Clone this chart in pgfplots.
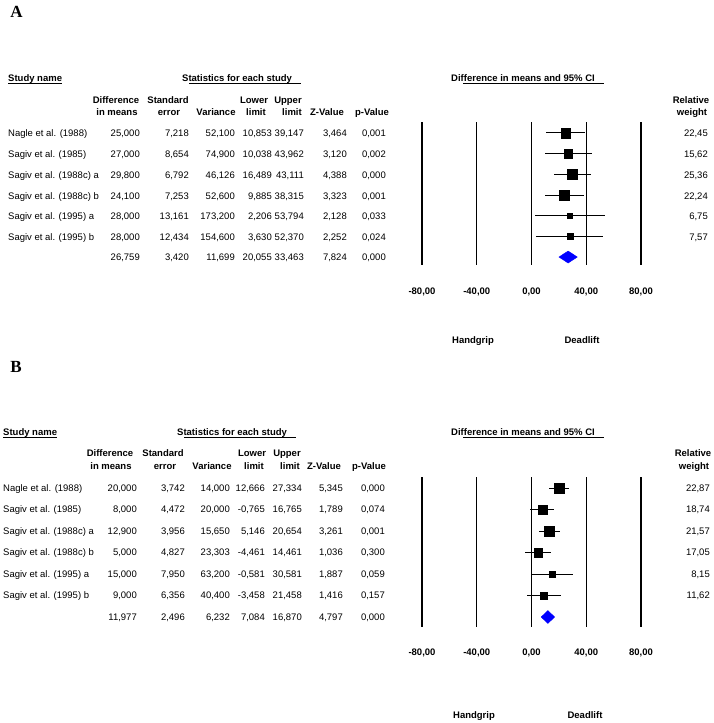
\documentclass[border=0pt]{standalone}
\usepackage{pgfplots}
\pgfplotsset{compat=1.18}
\usepackage{pgfplotstable}
\usepackage{fontspec}
\setmainfont{Liberation Sans}
\newfontfamily\panelfont{Liberation Serif}

\definecolor{diamondblue}{RGB}{0,0,255}

% forest plot data: row, estimate, lower, upper, relative weight
\pgfplotstableread{
row est lo hi w
1 25.000 10.853 39.147 22.45
2 27.000 10.038 43.962 15.62
3 29.800 16.489 43.111 25.36
4 24.100 9.885 38.315 22.24
5 28.000 2.206 53.794 6.75
6 28.000 3.630 52.370 7.57
}\dataA
\pgfplotstableread{
row est lo hi
7 20.055 26.759 33.463
}\sumA
\pgfplotstableread{
row est lo hi w
1 20.000 12.666 27.334 22.87
2 8.000 -0.765 16.765 18.74
3 12.900 5.146 20.654 21.57
4 5.000 -4.461 14.461 17.05
5 15.000 -0.581 30.581 8.15
6 9.000 -3.458 21.458 11.62
}\dataB

\pgfplotsset{
  forest/.style={
    scale only axis, width=219pt, clip=false,
    xmin=-80, xmax=80, y dir=reverse,
    axis line style={draw=none}, major tick length=0pt,
    ytick=\empty,
    xtick={-80,-40,0,40,80},
    xticklabels={{-80,00},{-40,00},{0,00},{40,00},{80,00}},
    xticklabel style={font=\fontsize{9.5}{11}\selectfont\bfseries, anchor=center, inner sep=0pt},
  },
  studies/.style={
    scatter, only marks, mark=square*,
    scatter/use mapped color={draw=black, fill=black},
    point meta=\thisrow{w},
    visualization depends on={1.05*sqrt(\thisrow{w}) \as \msz},
    scatter/@pre marker code/.append style={/tikz/mark size=\msz, /tikz/line width=0pt},
    error bars/.cd, x dir=both, x explicit, error mark=none,
    error bar style={line width=1pt, black},
  },
}

\newcommand\Row[9]{%
  \node[anchor=base west] at (\cN,\ry+3.4) {#1};
  \node[anchor=base east] at (\cD,\ry+3.4) {#2};
  \node[anchor=base east] at (\cS,\ry+3.4) {#3};
  \node[anchor=base east] at (\cV,\ry+3.4) {#4};
  \node[anchor=base east] at (\cL,\ry+3.4) {#5};
  \node[anchor=base east] at (\cU,\ry+3.4) {#6};
  \node[anchor=base east] at (\cZ,\ry+3.4) {#7};
  \node[anchor=base east] at (\cP,\ry+3.4) {#8};
  \node[anchor=base east] at (\cW,\ry+3.4) {#9};
}

\begin{document}
\begin{tikzpicture}
\path (0pt,0pt) rectangle (714pt,-723pt);

% ---------------- Panel A forest plot ----------------
\begin{axis}[forest, at={(422pt,-265pt)}, anchor=south west,
  height=143pt, ymin=0.469, ymax=7.386,
  xticklabel style={yshift=-27pt}]
\pgfplotsinvokeforeach{-80,-40,0,40,80}{
  \addplot[black, line width=1.2pt] coordinates {(#1,0.469) (#1,7.386)};
}
\addplot[studies] table[x=est, y=row,
  x error plus expr=\thisrow{hi}-\thisrow{est},
  x error minus expr=\thisrow{est}-\thisrow{lo}] {\dataA};
\addplot[fill=diamondblue, draw=diamondblue] coordinates
  {(20.055,7) (26.759,6.71) (33.463,7) (26.759,7.29)} -- cycle;
\end{axis}

% ---------------- Panel B forest plot ----------------
\begin{axis}[forest, at={(422pt,-627pt)}, anchor=south west,
  height=150pt, ymin=0.488, ymax=7.465,
  xticklabel style={yshift=-26pt}]
\pgfplotsinvokeforeach{-80,-40,0,40,80}{
  \addplot[black, line width=1.2pt] coordinates {(#1,0.488) (#1,7.465)};
}
\addplot[studies] table[x=est, y=row,
  x error plus expr=\thisrow{hi}-\thisrow{est},
  x error minus expr=\thisrow{est}-\thisrow{lo}] {\dataB};
\addplot[fill=diamondblue, draw=diamondblue] coordinates
  {(7.084,7) (11.977,6.7) (16.870,7) (11.977,7.3)} -- cycle;
\end{axis}

\begin{scope}[x=1pt, y=-1pt, every node/.style={inner sep=0pt, font=\fontsize{9.5}{11}\selectfont}]
% ===== Panel A text =====
\node[font=\fontsize{17}{20}\selectfont\panelfont\bfseries] at (16.5,12) {A};
\node[anchor=base west, font=\fontsize{9.5}{11}\selectfont\bfseries] (snA) at (8,81.4) {Study name};
\draw[line width=0.8pt] ([yshift=-1.8pt]snA.base west) -- ([yshift=-1.8pt]snA.base east);
\node[anchor=base west, font=\fontsize{9.5}{11}\selectfont\bfseries] (stA) at (182,81.4) {Statistics for each study};
\draw[line width=0.8pt] ([xshift=7pt,yshift=-1.8pt]stA.base west) -- ([xshift=9pt,yshift=-1.8pt]stA.base east);
\node[anchor=base west, font=\fontsize{9.5}{11}\selectfont\bfseries] (ciA) at (451,81.4) {Difference in means and 95\% CI};
\draw[line width=0.8pt] ([xshift=12pt,yshift=-1.8pt]ciA.base west) -- ([xshift=9pt,yshift=-1.8pt]ciA.base east);

\begin{scope}[every node/.append style={anchor=base, font=\fontsize{9.5}{11}\selectfont\bfseries}]
\node at (116,103.4) {Difference}; \node at (117,115.4) {in means};
\node at (168,103.4) {Standard};   \node at (169,115.4) {error};
\node at (216,115.4) {Variance};
\node at (254,103.4) {Lower};      \node at (256,115.4) {limit};
\node at (288,103.4) {Upper};      \node at (292,115.4) {limit};
\node at (327,115.4) {Z-Value};
\node at (372,115.4) {p-Value};
\node at (691,103.4) {Relative};   \node at (692,115.4) {weight};
\node at (473,343.4) {Handgrip};
\node at (582,343.4) {Deadlift};
\end{scope}

\def\cN{8}\def\cD{140}\def\cS{189}\def\cV{235}\def\cL{272}\def\cU{304}\def\cZ{347}\def\cP{386}\def\cW{708}
\def\ry{133}\Row{Nagle et al. (1988)}{25,000}{7,218}{52,100}{10,853}{39,147}{3,464}{0,001}{22,45}
\def\ry{154}\Row{Sagiv et al. (1985)}{27,000}{8,654}{74,900}{10,038}{43,962}{3,120}{0,002}{15,62}
\def\ry{175}\Row{Sagiv et al. (1988c) a}{29,800}{6,792}{46,126}{16,489}{43,111}{4,388}{0,000}{25,36}
\def\ry{196}\Row{Sagiv et al. (1988c) b}{24,100}{7,253}{52,600}{9,885}{38,315}{3,323}{0,001}{22,24}
\def\ry{216}\Row{Sagiv et al. (1995) a}{28,000}{13,161}{173,200}{2,206}{53,794}{2,128}{0,033}{6,75}
\def\ry{237}\Row{Sagiv et al. (1995) b}{28,000}{12,434}{154,600}{3,630}{52,370}{2,252}{0,024}{7,57}
\def\ry{257}\Row{}{26,759}{3,420}{11,699}{20,055}{33,463}{7,824}{0,000}{}

% ===== Panel B text =====
\node[font=\fontsize{17}{20}\selectfont\panelfont\bfseries] at (16,367) {B};
\node[anchor=base west, font=\fontsize{9.5}{11}\selectfont\bfseries] (snB) at (3,435.4) {Study name};
\draw[line width=0.8pt] ([yshift=-1.8pt]snB.base west) -- ([yshift=-1.8pt]snB.base east);
\node[anchor=base west, font=\fontsize{9.5}{11}\selectfont\bfseries] (stB) at (177,435.4) {Statistics for each study};
\draw[line width=0.8pt] ([xshift=7pt,yshift=-1.8pt]stB.base west) -- ([xshift=9pt,yshift=-1.8pt]stB.base east);
\node[anchor=base west, font=\fontsize{9.5}{11}\selectfont\bfseries] (ciB) at (451,435.4) {Difference in means and 95\% CI};
\draw[line width=0.8pt] ([xshift=12pt,yshift=-1.8pt]ciB.base west) -- ([xshift=9pt,yshift=-1.8pt]ciB.base east);

\begin{scope}[every node/.append style={anchor=base, font=\fontsize{9.5}{11}\selectfont\bfseries}]
\node at (110,456.4) {Difference}; \node at (111,469.4) {in means};
\node at (163,456.4) {Standard};   \node at (165,469.4) {error};
\node at (212,469.4) {Variance};
\node at (252,456.4) {Lower};      \node at (254,469.4) {limit};
\node at (287,456.4) {Upper};      \node at (290,469.4) {limit};
\node at (324,469.4) {Z-Value};
\node at (369,469.4) {p-Value};
\node at (693,456.4) {Relative};   \node at (694,469.4) {weight};
\node at (474,718.4) {Handgrip};
\node at (585,718.4) {Deadlift};
\end{scope}

\def\cN{3}\def\cD{137}\def\cS{185}\def\cV{230}\def\cL{265}\def\cU{302}\def\cZ{343}\def\cP{385}\def\cW{710}
\def\ry{488}\Row{Nagle et al. (1988)}{20,000}{3,742}{14,000}{12,666}{27,334}{5,345}{0,000}{22,87}
\def\ry{509.5}\Row{Sagiv et al. (1985)}{8,000}{4,472}{20,000}{-0,765}{16,765}{1,789}{0,074}{18,74}
\def\ry{531}\Row{Sagiv et al. (1988c) a}{12,900}{3,956}{15,650}{5,146}{20,654}{3,261}{0,001}{21,57}
\def\ry{552.5}\Row{Sagiv et al. (1988c) b}{5,000}{4,827}{23,303}{-4,461}{14,461}{1,036}{0,300}{17,05}
\def\ry{574}\Row{Sagiv et al. (1995) a}{15,000}{7,950}{63,200}{-0,581}{30,581}{1,887}{0,059}{8,15}
\def\ry{595.5}\Row{Sagiv et al. (1995) b}{9,000}{6,356}{40,400}{-3,458}{21,458}{1,416}{0,157}{11,62}
\def\ry{617}\Row{}{11,977}{2,496}{6,232}{7,084}{16,870}{4,797}{0,000}{}
\end{scope}
\end{tikzpicture}
\end{document}
